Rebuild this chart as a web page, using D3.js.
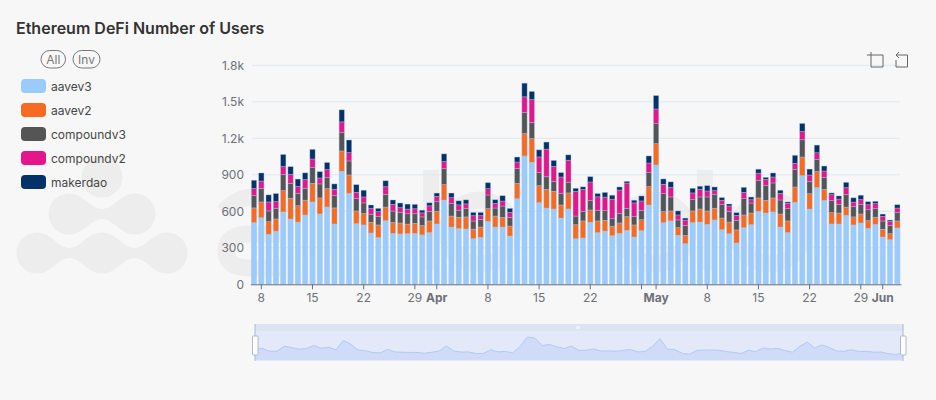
<!DOCTYPE html>
<html>
<head>
<meta charset="utf-8">
<style>
	html, body { margin: 0; padding: 0; background: #f7f7f7; }
	svg { display: block; font-family: Inter, sans-serif; }
</style>
<script src="https://cdn.jsdelivr.net/npm/d3@7"></script>
</head>
<body>
<div class="container"></div>
<script>
var seriesNames = ["aavev3", "aavev2", "compoundv3", "compoundv2", "makerdao"];
var seriesColors = ["#9acbff", "#f76a22", "#555555", "#e4178a", "#033268"];

// one value per day, 7 Mar to 3 Jun
var aavev3 = [507,548,411,438,595,537,512,570,677,578,636,496,929,748,499,488,422,384,523,419,414,416,419,406,425,496,693,471,458,455,375,386,518,471,471,397,704,1055,1003,671,627,619,545,619,375,381,510,425,438,400,419,444,389,441,652,981,507,521,403,334,507,512,493,529,449,416,340,466,490,600,586,595,471,425,674,893,619,795,690,496,496,567,488,504,460,493,389,367,463];
var aavev2 = [121,129,104,99,175,170,134,121,153,132,151,132,167,151,104,93,88,104,112,90,90,79,82,77,96,104,126,90,93,99,79,85,104,90,79,82,126,184,195,140,153,145,107,132,115,140,101,96,88,77,85,112,99,90,151,175,90,82,63,68,96,107,110,96,96,96,107,104,96,110,104,115,107,96,126,153,126,132,90,93,90,68,66,74,63,58,63,49,58];
var compoundv3 = [101,112,88,88,132,123,101,99,129,115,90,101,151,115,101,88,66,71,104,93,88,85,79,71,77,79,132,104,58,71,66,63,112,66,93,71,123,173,132,107,104,82,96,88,71,77,77,88,79,63,79,68,71,77,115,164,148,115,63,82,93,99,115,115,110,88,79,134,82,145,121,123,115,101,145,142,101,99,99,99,71,104,85,77,90,71,68,68,68];
var compoundv2 = [58,60,74,55,66,74,58,71,71,49,66,52,88,68,52,49,49,38,63,55,38,38,41,33,47,44,58,47,44,36,44,30,52,38,41,41,52,129,189,129,227,123,134,181,203,181,153,110,112,159,192,208,110,77,79,121,77,77,41,44,55,63,49,30,36,44,41,52,27,58,52,49,55,44,49,68,52,55,52,49,44,55,36,41,41,41,38,33,38];
var makerdao = [68,66,58,66,99,63,60,55,79,52,58,44,99,104,63,55,27,27,49,36,38,41,36,22,25,27,63,38,33,33,27,27,49,30,44,33,41,112,66,58,58,49,36,44,25,22,44,27,38,33,25,14,22,41,58,110,44,47,33,16,38,25,44,30,22,16,22,41,22,33,16,33,25,11,66,66,49,63,41,14,25,44,36,36,25,19,19,11,27];
var seriesValues = [aavev3, aavev2, compoundv3, compoundv2, makerdao];

var days = d3.range(aavev3.length);
var yTicks = [0, 300, 600, 900, 1200, 1500, 1800];
var yTickLabels = ["0", "300", "600", "900", "1.2k", "1.5k", "1.8k"];
var xTickDays = [1, 8, 15, 22, 25, 32, 39, 46, 53, 55, 62, 69, 76, 83, 86];
var xTickLabels = ["8", "15", "22", "29", "Apr", "8", "15", "22", "", "May", "8", "15", "22", "29", "Jun"];
var monthLabels = ["Apr", "May", "Jun"];

var width = 936, height = 400;
var plot = {left: 252, right: 900, top: 65.3, bottom: 284.3};
var axisColor = "#6e7079", gridColor = "#e0e6f1", markColor = "#ededed";

var paper = d3.select(".container").append("svg")
	.attr("width", width)
	.attr("height", height);

// watermark sits behind everything
function drawWatermark () {
	var mark = paper.append("g").attr("fill", markColor);
	var blobs = [[102, 177], [69, 214], [135, 214], [37, 253], [102, 253], [167, 253]];
	var necks = [[69, 135, 214], [37, 102, 253], [102, 167, 253]];

	mark.selectAll("circle").data(blobs).enter().append("circle")
		.attr("cx", function (d) { return d[0]; })
		.attr("cy", function (d) { return d[1]; })
		.attr("r", 20.5);

	mark.selectAll("path.neck").data(necks).enter().append("path")
		.attr("class", "neck")
		.attr("d", function (d) {
			var m = (d[0] + d[1]) / 2, y = d[2], a = d[0], b = d[1];
			return "M" + a + "," + (y - 20) +
				"C" + (a + 15) + "," + (y - 20) + " " + (m - 11) + "," + (y - 5) + " " + m + "," + (y - 5) +
				"C" + (m + 11) + "," + (y - 5) + " " + (b - 15) + "," + (y - 20) + " " + b + "," + (y - 20) +
				"V" + (y + 20) +
				"C" + (b - 15) + "," + (y + 20) + " " + (m + 11) + "," + (y + 5) + " " + m + "," + (y + 5) +
				"C" + (m - 11) + "," + (y + 5) + " " + (a + 15) + "," + (y + 20) + " " + a + "," + (y + 20) + "Z";
		});

	// letter pieces of the word behind the plot
	mark.selectAll("rect").data([423, 697]).enter().append("rect")
		.attr("x", function (d) { return d; })
		.attr("y", 170)
		.attr("width", 16)
		.attr("height", 100);

	var strokes = paper.append("g").attr("fill", "none").attr("stroke", markColor).attr("stroke-width", 17);
	strokes.append("path").attr("d", "M224,212Q236,196 262,196");
	strokes.append("path").attr("d", "M285,234H250Q226,234 226,251Q226,268 250,268H285");
	strokes.selectAll("ellipse").data([480, 655, 770]).enter().append("ellipse")
		.attr("cx", function (d) { return d; })
		.attr("cy", 232)
		.attr("rx", 33)
		.attr("ry", 32);
}
drawWatermark();

var x = d3.scaleBand()
	.domain(days)
	.range([250.35, 901])
	.paddingInner(0.28)
	.paddingOuter(0.14);

var y = d3.scaleLinear()
	.domain([0, 1800])
	.range([plot.bottom, plot.top]);

// grid
paper.append("g").selectAll("line").data(yTicks.slice(1)).enter().append("line")
	.attr("x1", plot.left)
	.attr("x2", plot.right)
	.attr("y1", function (d) { return y(d); })
	.attr("y2", function (d) { return y(d); })
	.attr("stroke", gridColor);

// stacked bars
var rows = days.map(function (i) {
	var row = {day: i};
	seriesNames.forEach(function (name, s) { row[name] = seriesValues[s][i]; });
	return row;
});
var stacked = d3.stack().keys(seriesNames)(rows);

paper.append("g").selectAll("g").data(stacked).enter().append("g")
	.attr("fill", function (d, i) { return seriesColors[i]; })
	.selectAll("rect").data(function (d) { return d; }).enter().append("rect")
		.attr("x", function (d) { return x(d.data.day); })
		.attr("width", x.bandwidth())
		.attr("y", function (d) { return y(d[1]); })
		.attr("height", function (d) { return y(d[0]) - y(d[1]); })
		.attr("stroke", "#a9c4ea")
		.attr("stroke-opacity", 0.55)
		.attr("stroke-width", 0.7);

// y axis
var yAxis = d3.axisLeft(y)
	.tickValues(yTicks)
	.tickSize(0)
	.tickPadding(8)
	.tickFormat(function (d, i) { return yTickLabels[i]; });

var yGroup = paper.append("g")
	.attr("transform", "translate(" + plot.left + ",0)")
	.call(yAxis);
yGroup.select(".domain").remove();
yGroup.selectAll("text")
	.attr("fill", axisColor)
	.style("font-size", "12px")
	.style("font-family", "Inter, sans-serif");

// x axis
var xAxis = d3.axisBottom(x)
	.tickValues(xTickDays)
	.tickSize(5)
	.tickSizeOuter(0)
	.tickPadding(4)
	.tickFormat(function (d, i) { return xTickLabels[i]; });

var xGroup = paper.append("g")
	.attr("transform", "translate(0," + plot.bottom + ")")
	.call(xAxis);
xGroup.select(".domain").attr("stroke", axisColor);
xGroup.selectAll("line").attr("stroke", axisColor);
xGroup.selectAll("text")
	.attr("fill", axisColor)
	.style("font-size", "12px")
	.style("font-family", "Inter, sans-serif")
	.style("font-weight", function (d, i) {
		return monthLabels.indexOf(xTickLabels[i]) >= 0 ? 700 : 400;
	});

// title
paper.append("text")
	.attr("x", 16)
	.attr("y", 34)
	.attr("fill", "#333333")
	.style("font-size", "16px")
	.style("font-weight", 600)
	.text("Ethereum DeFi Number of Users");

// legend buttons
var buttons = paper.append("g").selectAll("g")
	.data([{label: "All", x: 41, w: 24.5}, {label: "Inv", x: 73, w: 27}])
	.enter().append("g");
buttons.append("rect")
	.attr("x", function (d) { return d.x; })
	.attr("y", 50.5)
	.attr("width", function (d) { return d.w; })
	.attr("height", 17.5)
	.attr("rx", 8.7)
	.attr("fill", "none")
	.attr("stroke", "#777777");
buttons.append("text")
	.attr("x", function (d) { return d.x + d.w / 2; })
	.attr("y", 63.5)
	.attr("text-anchor", "middle")
	.attr("fill", "#777777")
	.style("font-size", "12px")
	.text(function (d) { return d.label; });

// legend
var legend = paper.append("g").selectAll("g").data(seriesNames).enter().append("g")
	.attr("transform", function (d, i) { return "translate(21," + (79 + i * 24) + ")"; });
legend.append("rect")
	.attr("width", 25)
	.attr("height", 14)
	.attr("rx", 4)
	.attr("fill", function (d, i) { return seriesColors[i]; });
legend.append("text")
	.attr("x", 30)
	.attr("y", 11.5)
	.attr("fill", "#464646")
	.style("font-size", "12px")
	.text(function (d) { return d; });

// toolbox icons
var icons = paper.append("g").attr("fill", "none").attr("stroke", "#666666").attr("stroke-width", 1);
icons.append("path").attr("d", "M871,52V67H883V55H867");
icons.append("path").attr("d", "M896,60V67H907.5V55H896M899,52L896,55L899,58");

// data zoom slider
var slider = {left: 255, right: 903, top: 324, strip: 331, bottom: 361};
var totals = days.map(function (i) {
	return d3.sum(seriesValues, function (s) { return s[i]; });
});
var sliderX = d3.scaleLinear().domain([0, days.length - 1]).range([slider.left, slider.right]);
var sliderY = d3.scaleLinear().domain([0, 1650]).range([362.7, 337]);

paper.append("rect")
	.attr("x", slider.left)
	.attr("y", slider.top)
	.attr("width", slider.right - slider.left)
	.attr("height", slider.bottom - slider.top)
	.attr("fill", "#e3e9f9");
paper.append("path")
	.datum(totals)
	.attr("fill", "#cfdbf7")
	.attr("d", d3.area()
		.x(function (d, i) { return sliderX(i); })
		.y0(slider.bottom - 1)
		.y1(function (d) { return sliderY(d); }));
paper.append("path")
	.datum(totals)
	.attr("fill", "none")
	.attr("stroke", "#b2caf6")
	.attr("d", d3.line()
		.x(function (d, i) { return sliderX(i); })
		.y(function (d) { return sliderY(d); }));
paper.append("rect")
	.attr("x", slider.left)
	.attr("y", slider.top)
	.attr("width", slider.right - slider.left)
	.attr("height", slider.strip - slider.top)
	.attr("fill", "#dde3f0");
paper.append("g").attr("fill", "#ffffff").selectAll("rect").data([576.5, 578.5]).enter().append("rect")
	.attr("x", function (d) { return d; })
	.attr("y", 326)
	.attr("width", 1)
	.attr("height", 3);

var handles = paper.append("g").selectAll("g").data([slider.left, slider.right]).enter().append("g");
handles.append("line")
	.attr("x1", function (d) { return d; })
	.attr("x2", function (d) { return d; })
	.attr("y1", slider.top)
	.attr("y2", slider.bottom)
	.attr("stroke", "#acb8d1");
handles.append("rect")
	.attr("x", function (d) { return d - 2.5; })
	.attr("y", 336)
	.attr("width", 5.5)
	.attr("height", 19)
	.attr("rx", 1)
	.attr("fill", "#ffffff")
	.attr("stroke", "#acb8d1");
</script>
</body>
</html>
